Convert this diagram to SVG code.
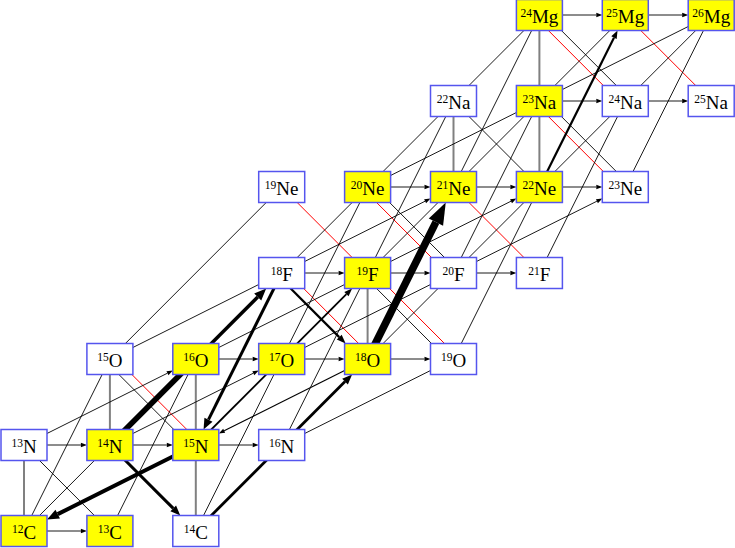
<svg xmlns="http://www.w3.org/2000/svg" width="735" height="548" viewBox="0 0 735 548">
<defs>
<style>
.t{stroke:#000;stroke-width:0.9;fill:none}
.r{stroke:#ff0000;stroke-width:1;fill:none}
.g{stroke:#808080;stroke-width:2;fill:none}
.k{stroke:#000;fill:none}
.bx{stroke:#5555ee;stroke-width:1.5}
.y{fill:#ffff00}
.w{fill:#ffffff}
.lb{font-family:"Liberation Serif","Times New Roman",serif;font-size:19px;text-anchor:middle;fill:#000}
.sp{font-size:11.5px}
</style>
<marker id="ah1" markerUnits="userSpaceOnUse" viewBox="0 -2.2 6 4.4" markerWidth="6" markerHeight="4.4" refX="0" refY="0" orient="auto" overflow="visible"><path d="M0,-2.2 L6,0 L0,2.2 z" fill="#000"/></marker>
<marker id="ah2" markerUnits="userSpaceOnUse" viewBox="0 -3 8 6" markerWidth="8" markerHeight="6" refX="0" refY="0" orient="auto" overflow="visible"><path d="M0,-3 L8,0 L0,3 z" fill="#000"/></marker>
<marker id="ah3" markerUnits="userSpaceOnUse" viewBox="0 -3.5 9 7" markerWidth="9" markerHeight="7" refX="0" refY="0" orient="auto" overflow="visible"><path d="M0,-3.5 L9,0 L0,3.5 z" fill="#000"/></marker>
<marker id="ah4" markerUnits="userSpaceOnUse" viewBox="0 -4 10 8" markerWidth="10" markerHeight="8" refX="0" refY="0" orient="auto" overflow="visible"><path d="M0,-4 L10,0 L0,4 z" fill="#000"/></marker>
<marker id="ah5" markerUnits="userSpaceOnUse" viewBox="0 -4.5 11 9" markerWidth="11" markerHeight="9" refX="0" refY="0" orient="auto" overflow="visible"><path d="M0,-4.5 L11,0 L0,4.5 z" fill="#000"/></marker>
<marker id="ah6" markerUnits="userSpaceOnUse" viewBox="0 -5 12 10" markerWidth="12" markerHeight="10" refX="0" refY="0" orient="auto" overflow="visible"><path d="M0,-5 L12,0 L0,5 z" fill="#000"/></marker>
<marker id="ah8" markerUnits="userSpaceOnUse" viewBox="0 -8 22 16" markerWidth="22" markerHeight="16" refX="0" refY="0" orient="auto" overflow="visible"><path d="M0,-8 L22,0 L0,8 z" fill="#000"/></marker>
</defs>
<rect width="735" height="548" fill="#ffffff"/>
<g id="connectors">
<!-- (n,gamma) horizontal -->
<g class="t" marker-end="url(#ah1)">
<line x1="47" y1="531" x2="80.9" y2="531"/>
<line x1="47" y1="445" x2="80.9" y2="445"/>
<line x1="132.9" y1="445" x2="166.8" y2="445"/>
<line x1="218.8" y1="445" x2="252.7" y2="445"/>
<line x1="218.8" y1="359" x2="252.7" y2="359"/>
<line x1="304.7" y1="359" x2="338.6" y2="359"/>
<line x1="390.6" y1="359" x2="424.5" y2="359"/>
<line x1="304.7" y1="273" x2="338.6" y2="273"/>
<line x1="390.6" y1="273" x2="424.5" y2="273"/>
<line x1="476.5" y1="273" x2="510.4" y2="273"/>
<line x1="390.6" y1="187" x2="424.5" y2="187"/>
<line x1="476.5" y1="187" x2="510.4" y2="187"/>
<line x1="562.4" y1="187" x2="596.3" y2="187"/>
<line x1="562.4" y1="101" x2="596.3" y2="101"/>
<line x1="648.3" y1="101" x2="682.2" y2="101"/>
<line x1="562.4" y1="15" x2="596.3" y2="15"/>
<line x1="648.3" y1="15" x2="682.2" y2="15"/>
</g>
<!-- (p,gamma) vertical gray -->
<g class="g">
<line x1="24" y1="531" x2="24" y2="445"/>
<line x1="109.9" y1="445" x2="109.9" y2="359"/>
<line x1="195.8" y1="531" x2="195.8" y2="445"/>
<line x1="195.8" y1="445" x2="195.8" y2="359"/>
<line x1="367.6" y1="359" x2="367.6" y2="273"/>
<line x1="453.5" y1="187" x2="453.5" y2="101"/>
<line x1="539.4" y1="187" x2="539.4" y2="101"/>
<line x1="539.4" y1="101" x2="539.4" y2="15"/>
</g>
<!-- beta decays red -->
<g class="r">
<line x1="281.7" y1="187" x2="367.6" y2="273"/>
<line x1="453.5" y1="187" x2="539.4" y2="273"/>
<line x1="625.3" y1="15" x2="711.2" y2="101"/>
<line x1="116.4" y1="359" x2="202.3" y2="445"/>
<line x1="288.2" y1="273" x2="374.1" y2="359"/>
<line x1="361.1" y1="187" x2="447" y2="273"/>
<line x1="374.1" y1="273" x2="460" y2="359"/>
<line x1="532.9" y1="101" x2="618.8" y2="187"/>
<line x1="532.9" y1="15" x2="618.8" y2="101"/>
</g>
<!-- thin black -->
<g class="t">
<line x1="24" y1="445" x2="109.9" y2="531"/>
<line x1="453.5" y1="101" x2="539.4" y2="187"/>
<line x1="103.4" y1="359" x2="189.3" y2="445"/>
<line x1="374.1" y1="187" x2="460" y2="273"/>
<line x1="361.1" y1="273" x2="447" y2="359"/>
<line x1="545.9" y1="101" x2="631.8" y2="187"/>
<line x1="545.9" y1="15" x2="631.8" y2="101"/>
<line x1="24" y1="531" x2="109.9" y2="445"/>
<line x1="281.7" y1="273" x2="539.4" y2="15"/>
<line x1="367.6" y1="273" x2="625.3" y2="15"/>
<line x1="367.6" y1="359" x2="711.2" y2="15"/>
<line x1="109.9" y1="359" x2="281.7" y2="187"/>
<line x1="24" y1="531" x2="109.9" y2="359"/>
<line x1="109.9" y1="531" x2="195.8" y2="359"/>
<line x1="195.8" y1="531" x2="281.7" y2="359"/>
<line x1="281.7" y1="445" x2="367.6" y2="273"/>
<line x1="281.7" y1="359" x2="367.6" y2="187"/>
<line x1="453.5" y1="359" x2="539.4" y2="187"/>
<line x1="367.6" y1="273" x2="453.5" y2="101"/>
<line x1="453.5" y1="273" x2="539.4" y2="101"/>
<line x1="539.4" y1="273" x2="625.3" y2="101"/>
<line x1="453.5" y1="187" x2="539.4" y2="15"/>
<line x1="625.3" y1="187" x2="711.2" y2="15"/>
<line x1="281.7" y1="445" x2="453.5" y2="359"/>
<line x1="109.9" y1="359" x2="281.7" y2="273"/>
<line x1="195.8" y1="359" x2="367.6" y2="273"/>
<line x1="281.7" y1="359" x2="453.5" y2="273"/>
<line x1="367.6" y1="187" x2="539.4" y2="101"/>
<line x1="539.4" y1="101" x2="711.2" y2="15"/>
</g>
<g class="t" marker-end="url(#ah1)">
<line x1="24" y1="445" x2="167.43" y2="373.19"/>
<line x1="109.9" y1="445" x2="253.33" y2="373.19"/>
<line x1="281.7" y1="273" x2="425.13" y2="201.19"/>
<line x1="367.6" y1="273" x2="511.03" y2="201.19"/>
<line x1="453.5" y1="273" x2="596.93" y2="201.19"/>
<line x1="367.6" y1="359" x2="224.17" y2="430.81" style="stroke-width:1.2"/>
</g>
<!-- main flows -->
<g class="k">
<line x1="109.9" y1="445" x2="195.8" y2="359" stroke-width="5.5"/>
<line x1="109.9" y1="445" x2="257.71" y2="296.99" stroke-width="3.5" marker-end="url(#ah6)"/>
<line x1="109.9" y1="445" x2="173.23" y2="508.43" stroke-width="3" marker-end="url(#ah4)"/>
<line x1="195.8" y1="445" x2="57.73" y2="514.13" stroke-width="4" marker-end="url(#ah6)"/>
<line x1="281.7" y1="273" x2="208.46" y2="419.66" stroke-width="3" marker-end="url(#ah5)"/>
<line x1="195.8" y1="445" x2="346.44" y2="294.16" stroke-width="1.8" marker-end="url(#ah2)"/>
<line x1="195.8" y1="531" x2="345.03" y2="381.57" stroke-width="2.8" marker-end="url(#ah4)"/>
<line x1="275.2" y1="273" x2="339.24" y2="337.14" stroke-width="2.2" marker-end="url(#ah3)"/>
<line x1="367.6" y1="359" x2="435.92" y2="222.18" stroke-width="7.5" marker-end="url(#ah8)"/>
<line x1="539.4" y1="187" x2="613.98" y2="37.66" stroke-width="2.2" marker-end="url(#ah2)"/>
</g>
</g>
<g id="nodes">
<g id="n12C"><rect class="bx y" x="1" y="515.5" width="46" height="31"/><text class="lb" x="24" y="538.5"><tspan class="sp" dy="-6">12</tspan><tspan dy="6">C</tspan></text></g>
<g id="n13C"><rect class="bx y" x="86.9" y="515.5" width="46" height="31"/><text class="lb" x="109.9" y="538.5"><tspan class="sp" dy="-6">13</tspan><tspan dy="6">C</tspan></text></g>
<g id="n14C"><rect class="bx w" x="172.8" y="515.5" width="46" height="31"/><text class="lb" x="195.8" y="538.5"><tspan class="sp" dy="-6">14</tspan><tspan dy="6">C</tspan></text></g>
<g id="n13N"><rect class="bx w" x="1" y="429.5" width="46" height="31"/><text class="lb" x="24" y="452.5"><tspan class="sp" dy="-6">13</tspan><tspan dy="6">N</tspan></text></g>
<g id="n14N"><rect class="bx y" x="86.9" y="429.5" width="46" height="31"/><text class="lb" x="109.9" y="452.5"><tspan class="sp" dy="-6">14</tspan><tspan dy="6">N</tspan></text></g>
<g id="n15N"><rect class="bx y" x="172.8" y="429.5" width="46" height="31"/><text class="lb" x="195.8" y="452.5"><tspan class="sp" dy="-6">15</tspan><tspan dy="6">N</tspan></text></g>
<g id="n16N"><rect class="bx w" x="258.7" y="429.5" width="46" height="31"/><text class="lb" x="281.7" y="452.5"><tspan class="sp" dy="-6">16</tspan><tspan dy="6">N</tspan></text></g>
<g id="n15O"><rect class="bx w" x="86.9" y="343.5" width="46" height="31"/><text class="lb" x="109.9" y="366.5"><tspan class="sp" dy="-6">15</tspan><tspan dy="6">O</tspan></text></g>
<g id="n16O"><rect class="bx y" x="172.8" y="343.5" width="46" height="31"/><text class="lb" x="195.8" y="366.5"><tspan class="sp" dy="-6">16</tspan><tspan dy="6">O</tspan></text></g>
<g id="n17O"><rect class="bx y" x="258.7" y="343.5" width="46" height="31"/><text class="lb" x="281.7" y="366.5"><tspan class="sp" dy="-6">17</tspan><tspan dy="6">O</tspan></text></g>
<g id="n18O"><rect class="bx y" x="344.6" y="343.5" width="46" height="31"/><text class="lb" x="367.6" y="366.5"><tspan class="sp" dy="-6">18</tspan><tspan dy="6">O</tspan></text></g>
<g id="n19O"><rect class="bx w" x="430.5" y="343.5" width="46" height="31"/><text class="lb" x="453.5" y="366.5"><tspan class="sp" dy="-6">19</tspan><tspan dy="6">O</tspan></text></g>
<g id="n18F"><rect class="bx w" x="258.7" y="257.5" width="46" height="31"/><text class="lb" x="281.7" y="280.5"><tspan class="sp" dy="-6">18</tspan><tspan dy="6">F</tspan></text></g>
<g id="n19F"><rect class="bx y" x="344.6" y="257.5" width="46" height="31"/><text class="lb" x="367.6" y="280.5"><tspan class="sp" dy="-6">19</tspan><tspan dy="6">F</tspan></text></g>
<g id="n20F"><rect class="bx w" x="430.5" y="257.5" width="46" height="31"/><text class="lb" x="453.5" y="280.5"><tspan class="sp" dy="-6">20</tspan><tspan dy="6">F</tspan></text></g>
<g id="n21F"><rect class="bx w" x="516.4" y="257.5" width="46" height="31"/><text class="lb" x="539.4" y="280.5"><tspan class="sp" dy="-6">21</tspan><tspan dy="6">F</tspan></text></g>
<g id="n19Ne"><rect class="bx w" x="258.7" y="171.5" width="46" height="31"/><text class="lb" x="281.7" y="194.5"><tspan class="sp" dy="-6">19</tspan><tspan dy="6">Ne</tspan></text></g>
<g id="n20Ne"><rect class="bx y" x="344.6" y="171.5" width="46" height="31"/><text class="lb" x="367.6" y="194.5"><tspan class="sp" dy="-6">20</tspan><tspan dy="6">Ne</tspan></text></g>
<g id="n21Ne"><rect class="bx y" x="430.5" y="171.5" width="46" height="31"/><text class="lb" x="453.5" y="194.5"><tspan class="sp" dy="-6">21</tspan><tspan dy="6">Ne</tspan></text></g>
<g id="n22Ne"><rect class="bx y" x="516.4" y="171.5" width="46" height="31"/><text class="lb" x="539.4" y="194.5"><tspan class="sp" dy="-6">22</tspan><tspan dy="6">Ne</tspan></text></g>
<g id="n23Ne"><rect class="bx w" x="602.3" y="171.5" width="46" height="31"/><text class="lb" x="625.3" y="194.5"><tspan class="sp" dy="-6">23</tspan><tspan dy="6">Ne</tspan></text></g>
<g id="n22Na"><rect class="bx w" x="430.5" y="85.5" width="46" height="31"/><text class="lb" x="453.5" y="108.5"><tspan class="sp" dy="-6">22</tspan><tspan dy="6">Na</tspan></text></g>
<g id="n23Na"><rect class="bx y" x="516.4" y="85.5" width="46" height="31"/><text class="lb" x="539.4" y="108.5"><tspan class="sp" dy="-6">23</tspan><tspan dy="6">Na</tspan></text></g>
<g id="n24Na"><rect class="bx w" x="602.3" y="85.5" width="46" height="31"/><text class="lb" x="625.3" y="108.5"><tspan class="sp" dy="-6">24</tspan><tspan dy="6">Na</tspan></text></g>
<g id="n25Na"><rect class="bx w" x="688.2" y="85.5" width="46" height="31"/><text class="lb" x="711.2" y="108.5"><tspan class="sp" dy="-6">25</tspan><tspan dy="6">Na</tspan></text></g>
<g id="n24Mg"><rect class="bx y" x="516.4" y="-0.5" width="46" height="31"/><text class="lb" x="539.4" y="22.5"><tspan class="sp" dy="-6">24</tspan><tspan dy="6">Mg</tspan></text></g>
<g id="n25Mg"><rect class="bx y" x="602.3" y="-0.5" width="46" height="31"/><text class="lb" x="625.3" y="22.5"><tspan class="sp" dy="-6">25</tspan><tspan dy="6">Mg</tspan></text></g>
<g id="n26Mg"><rect class="bx y" x="688.2" y="-0.5" width="46" height="31"/><text class="lb" x="711.2" y="22.5"><tspan class="sp" dy="-6">26</tspan><tspan dy="6">Mg</tspan></text></g>
</g>
</svg>
